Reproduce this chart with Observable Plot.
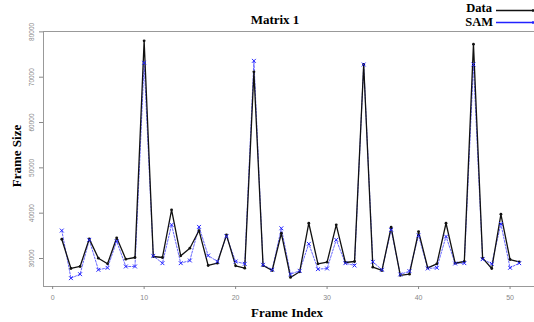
<!DOCTYPE html>
<html>
<head>
<meta charset="utf-8">
<script src="https://cdn.jsdelivr.net/npm/d3@7"></script>
<script src="https://cdn.jsdelivr.net/npm/@observablehq/plot@0.6"></script>
<style>
  body { margin: 0; background: #fff; }
  #wrap { position: relative; width: 534px; height: 322px; overflow: hidden; }
  .lab { position: absolute; font-family: "Liberation Serif", "DejaVu Serif", serif; font-weight: bold; font-size: 13px; color: #000; white-space: nowrap; line-height: 1; }
</style>
</head>
<body>
<div id="wrap"></div>
<script>
const frameIndex = [1,2,3,4,5,6,7,8,9,10,11,12,13,14,15,16,17,18,19,20,21,22,23,24,25,26,27,28,29,30,31,32,33,34,35,36,37,38,39,40,41,42,43,44,45,46,47,48,49,50,51];
const dataSize = [34250,27800,28240,34330,30070,28830,34560,29850,30220,78020,30440,30220,40730,30590,32270,36170,28460,28970,35220,28390,27860,71190,28460,27360,35570,25820,27070,37780,28830,29190,37420,29120,29340,72800,28090,27360,36900,26260,26550,35950,27950,28830,37780,28970,29340,77290,30070,27800,39760,29780,29270];
const samSize = [36170,25660,26540,34120,27510,27950,33810,28240,28240,73170,30590,28970,37420,28970,29560,36980,30660,29340,34910,29340,28830,73610,28610,27510,36670,26540,27290,33240,27650,27800,34120,28970,28460,72800,29270,27510,36320,26480,27210,35070,27800,27950,34850,28900,28970,72800,29850,28830,37640,27950,28970];
const xTicks = [0,10,20,30,40,50];
const yTicks = [30000,40000,50000,60000,70000,80000];
const title = "Matrix 1";
const xLabel = "Frame Index";
const yLabel = "Frame Size";
const seriesNames = ["Data", "SAM"];

const rowsData = frameIndex.map((i, k) => ({i, v: dataSize[k]}));
const rowsSam = frameIndex.map((i, k) => ({i, v: samSize[k]}));

const chart = Plot.plot({
  width: 534,
  height: 322,
  marginTop: 31,
  marginBottom: 36,
  marginLeft: 43,
  marginRight: -3,
  style: {fontFamily: "Liberation Sans, Arial, sans-serif", background: "transparent", overflow: "hidden"},
  x: {domain: [-1, 53], label: null},
  y: {domain: [23825, 80080], label: null},
  marks: [
    Plot.frame({stroke: "#999", strokeWidth: 1}),
    Plot.axisY({ticks: yTicks, tickSize: 4, tickFormat: () => "", stroke: "#888"}),
    Plot.text(yTicks, {y: d => d, text: d => String(d), frameAnchor: "left", dx: -12, rotate: -90, textAnchor: "middle", lineAnchor: "middle", fontSize: 6.5, fill: "#888"}),
    Plot.axisX({ticks: xTicks, tickSize: 3, tickPadding: 6, fontSize: 7, stroke: "#888", fill: "#888", tickFormat: d => String(d)}),
    Plot.line(rowsSam, {x: "i", y: "v", stroke: "#6666ff", strokeWidth: 1, strokeDasharray: "2,1.5"}),
    Plot.line(rowsData, {x: "i", y: "v", stroke: "#111", strokeWidth: 1.3}),
    Plot.dot(rowsData, {x: "i", y: "v", r: 1.4, fill: "#111", stroke: "none"}),
    Plot.dot(rowsSam, {x: "i", y: "v", r: 1.9, symbol: "times", stroke: "#2222ff", strokeWidth: 1})
  ]
});
const wrap = document.getElementById("wrap");
wrap.appendChild(chart);

function addLabel(txt, style) {
  const d = document.createElement("div");
  d.className = "lab";
  d.textContent = txt;
  Object.assign(d.style, style);
  wrap.appendChild(d);
  return d;
}
addLabel(title, {left: "275px", top: "13px", transform: "translateX(-50%)"});
addLabel(xLabel, {left: "287px", top: "306px", transform: "translateX(-50%)"});
addLabel(yLabel, {left: "16px", top: "156px", transform: "translate(-50%,-50%) rotate(-90deg)"});
addLabel(seriesNames[0], {right: "42px", top: "2px", fontSize: "12.5px"});
addLabel(seriesNames[1], {right: "41px", top: "16px", fontSize: "12.5px"});

// legend lines
const ns = "http://www.w3.org/2000/svg";
const lg = document.createElementNS(ns, "svg");
lg.setAttribute("width", 40); lg.setAttribute("height", 30);
Object.assign(lg.style, {position: "absolute", left: "495px", top: "0px"});
[["#111", 10.5], ["#2222ff", 22.5]].forEach(([c, y]) => {
  const l = document.createElementNS(ns, "line");
  l.setAttribute("x1", 1); l.setAttribute("x2", 40);
  l.setAttribute("y1", y); l.setAttribute("y2", y);
  l.setAttribute("stroke", c); l.setAttribute("stroke-width", 1.3);
  lg.appendChild(l);
  const t = document.createElementNS(ns, "line");
  t.setAttribute("x1", 38); t.setAttribute("x2", 38);
  t.setAttribute("y1", y - 1.5); t.setAttribute("y2", y + 1.5);
  t.setAttribute("stroke", c); t.setAttribute("stroke-width", 1.3);
  lg.appendChild(t);
});
wrap.appendChild(lg);
</script>
</body>
</html>
